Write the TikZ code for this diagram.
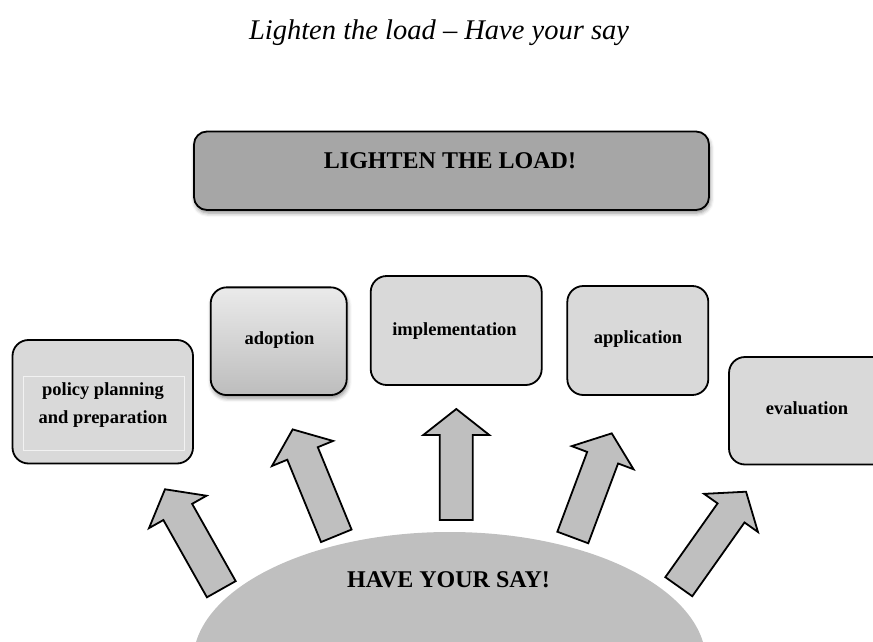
\documentclass[tikz,border=0pt]{standalone}
\usepackage{fontspec}
\setmainfont{Liberation Serif}
\usetikzlibrary{shadows.blur}
\definecolor{topgray}{HTML}{A6A6A6}
\definecolor{boxgray}{HTML}{D9D9D9}
\definecolor{sungray}{HTML}{BFBFBF}
\newcommand\blockarr[4]{%
  \coordinate (#1) at #2;
  \draw[arrowshape, shift={(#1)}, rotate=#3]
    (0,-16.5) -- ({#4-26},-16.5) -- ({#4-26},-33) -- (#4,0)
    -- ({#4-26},33) -- ({#4-26},16.5) -- (0,16.5) -- cycle;}
\begin{document}
\begin{tikzpicture}[x=1pt,y=-1pt,
  stagebox/.style={draw=black, line width=1.8pt, rounded corners=16pt, fill=boxgray, inner sep=0pt},
  leadbox/.style={draw=black, line width=1.8pt, rounded corners=13pt, fill=topgray, inner sep=0pt,
     blur shadow={shadow xshift=1pt, shadow yshift=-3pt, shadow blur radius=4pt, shadow opacity=45}},
  shadebox/.style={draw=black, line width=1.8pt, rounded corners=16pt, inner sep=0pt,
     top color=black!8, bottom color=black!26,
     blur shadow={shadow xshift=1pt, shadow yshift=-3pt, shadow blur radius=4pt, shadow opacity=45}},
  arrowshape/.style={draw=black, line width=1.8pt, fill=sungray, line join=miter},
  biglabel/.style={font=\fontsize{24}{28}\selectfont\bfseries, inner sep=0pt, anchor=base},
  stagelabel/.style={font=\fontsize{18.5}{28}\selectfont\bfseries, inner sep=0pt, anchor=base},
]
\useasboundingbox (0,0) rectangle (873,642);
\clip (0,0) rectangle (873,642);

% title
\node[font=\fontsize{28.5}{34}\selectfont\itshape, inner sep=0pt, anchor=base] (title) at (439,40) {Lighten the load -- Have your say};

% half sun
\fill[sungray] (449.5,662) ellipse [x radius=256.5, y radius=130];
\node[biglabel] (say) at (448.5,587) {HAVE YOUR SAY!};

% top box
\node[leadbox, minimum width=515pt, minimum height=78.5pt] (lead) at (451.5,170.75) {};
\node[biglabel] (leadtext) at (450,168) {LIGHTEN THE LOAD!};

% stage boxes
\node[stagebox, minimum width=180.5pt, minimum height=123.5pt] (policy) at (102.75,401.75) {};
\draw[black!5, line width=0.5pt] (23.3,376.7) rectangle (184,450.7);
\node[font=\fontsize{18.5}{28}\selectfont\bfseries, inner sep=0pt, align=center] (policytext) at (103,405) {policy planning\\and preparation};

\node[shadebox, minimum width=136pt, minimum height=107.7pt] (adoption) at (278.7,341.2) {};
\node[stagelabel] (adoptiontext) at (279.5,344) {adoption};

\node[stagebox, minimum width=171pt, minimum height=109pt] (impl) at (456.2,330.5) {};
\node[stagelabel] (impltext) at (454.5,335) {implementation};

\node[stagebox, minimum width=141pt, minimum height=109pt] (appl) at (637.8,340.5) {};
\node[stagelabel] (appltext) at (638,343) {application};

\node[stagebox, minimum width=190pt, minimum height=107.5pt] (eval) at (824,410.75) {};
\node[stagelabel] (evaltext) at (807,414) {evaluation};

% block arrows
\blockarr{a1}{(221.3,589.2)}{119.4}{114.7}
\blockarr{a2}{(336.3,535.8)}{112.3}{115}
\blockarr{a3}{(456.3,520)}{90}{111}
\blockarr{a4}{(572.8,537.5)}{69.5}{111.2}
\blockarr{a5}{(678.8,586.7)}{54.7}{116.4}
\end{tikzpicture}
\end{document}
